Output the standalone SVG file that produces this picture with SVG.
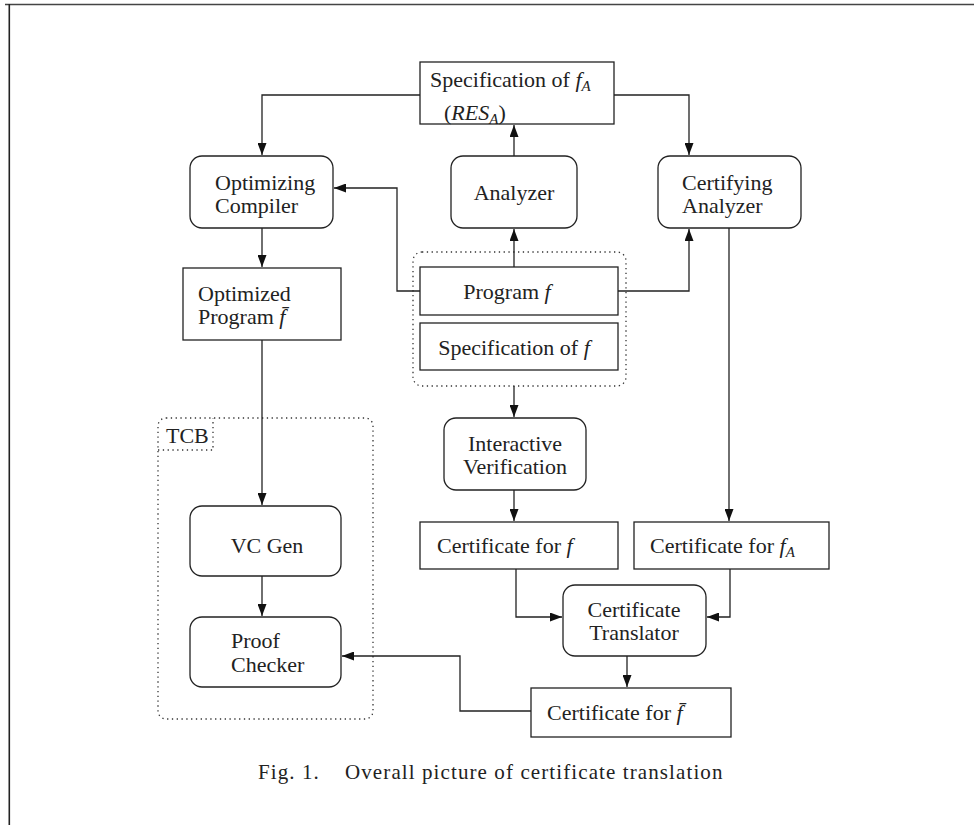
<svg xmlns="http://www.w3.org/2000/svg" width="974" height="825" viewBox="0 0 974 825">
<style>
  .box { fill: #fff; stroke: #222; stroke-width: 1.3; }
  .dot { fill: none; stroke: #333; stroke-width: 1.3; stroke-dasharray: 1.3 3.5; }
  .t { font-family: "Liberation Serif", "Times New Roman", serif; font-size: 22px; fill: #222; }
  .it { font-style: italic; }
  .sub { font-size: 15px; font-style: italic; }
  .cap { font-family: "Liberation Serif", "Times New Roman", serif; font-size: 21px; letter-spacing: 1.1px; fill: #222; }
  .conn path { fill: none; stroke: #222; stroke-width: 1.3; }
</style>
<defs>
  <marker id="ah" viewBox="0 0 12 9" refX="12" refY="4.5" markerWidth="12" markerHeight="9" markerUnits="userSpaceOnUse" orient="auto">
    <path d="M0,0 L12,4.5 L0,9 z" fill="#111"/>
  </marker>
</defs>
<rect width="974" height="825" fill="#fff"/>
<g id="frame">
  <path d="M5,4.5 H974" stroke="#444" stroke-width="1.6" fill="none"/>
  <path d="M9.3,4 V825" stroke="#222" stroke-width="1.6" fill="none"/>
</g>

<g id="groupProgram">
  <rect class="dot" x="413" y="252" width="213" height="134" rx="9"/>
</g>
<g id="tcb">
  <rect class="dot" x="158" y="418" width="215" height="301" rx="8"/>
  <path class="dot" d="M158,450 H213 V418"/>
  <text class="t" x="166" y="443">TCB</text>
</g>

<g class="conn" id="connectors">
  <path d="M420,95 H262 V155" marker-end="url(#ah)"/>
  <path d="M614,95 H689 V155" marker-end="url(#ah)"/>
  <path d="M514,156 V125" marker-end="url(#ah)"/>
  <path d="M514,267 V229" marker-end="url(#ah)"/>
  <path d="M420,291 H397 V188 H334" marker-end="url(#ah)"/>
  <path d="M618,291 H689 V229" marker-end="url(#ah)"/>
  <path d="M262,228 V267" marker-end="url(#ah)"/>
  <path d="M262,340 V505" marker-end="url(#ah)"/>
  <path d="M262,576 V616" marker-end="url(#ah)"/>
  <path d="M514,386 V417" marker-end="url(#ah)"/>
  <path d="M514,490 V521" marker-end="url(#ah)"/>
  <path d="M729,228 V521" marker-end="url(#ah)"/>
  <path d="M516,569 V617 H562" marker-end="url(#ah)"/>
  <path d="M730,569 V617 H707" marker-end="url(#ah)"/>
  <path d="M627,656 V687" marker-end="url(#ah)"/>
  <path d="M531,711 H460 V656 H342" marker-end="url(#ah)"/>
</g>

<g id="specA">
  <rect class="box" x="420" y="62" width="194" height="62"/>
  <text class="t" x="430" y="87">Specification of <tspan class="it">f</tspan><tspan class="sub" dy="4">A</tspan></text>
  <text class="t" x="444" y="120">(<tspan class="it">RES</tspan><tspan class="sub" dy="4">A</tspan><tspan dy="-4">)</tspan></text>
</g>
<g id="optCompiler">
  <rect class="box" x="190" y="156" width="143" height="72" rx="12"/>
  <text class="t" x="215" y="190">Optimizing</text>
  <text class="t" x="215" y="213">Compiler</text>
</g>
<g id="analyzer">
  <rect class="box" x="451" y="156" width="126" height="72" rx="12"/>
  <text class="t" x="514" y="200" text-anchor="middle">Analyzer</text>
</g>
<g id="certAnalyzer">
  <rect class="box" x="658" y="156" width="143" height="72" rx="12"/>
  <text class="t" x="682" y="190">Certifying</text>
  <text class="t" x="682" y="213">Analyzer</text>
</g>
<g id="optProgram">
  <rect class="box" x="183" y="268" width="158" height="72"/>
  <text class="t" x="198" y="301">Optimized</text>
  <text class="t" x="198" y="324">Program <tspan class="it">f&#x304;</tspan></text>
</g>
<g id="programF">
  <rect class="box" x="420" y="267" width="198" height="48"/>
  <text class="t" x="507" y="299" text-anchor="middle">Program <tspan class="it">f</tspan></text>
</g>
<g id="specF">
  <rect class="box" x="420" y="323" width="198" height="47"/>
  <text class="t" x="514" y="355" text-anchor="middle">Specification of <tspan class="it">f</tspan></text>
</g>
<g id="interactive">
  <rect class="box" x="444" y="418" width="142" height="72" rx="12"/>
  <text class="t" x="515" y="451" text-anchor="middle">Interactive</text>
  <text class="t" x="515" y="474" text-anchor="middle">Verification</text>
</g>
<g id="vcgen">
  <rect class="box" x="190" y="506" width="151" height="70" rx="12"/>
  <text class="t" x="267" y="553" text-anchor="middle">VC Gen</text>
</g>
<g id="proofChecker">
  <rect class="box" x="190" y="617" width="151" height="70" rx="12"/>
  <text class="t" x="231" y="648">Proof</text>
  <text class="t" x="231" y="672">Checker</text>
</g>
<g id="certF">
  <rect class="box" x="420" y="522" width="198" height="47"/>
  <text class="t" x="437" y="553">Certificate for <tspan class="it">f</tspan></text>
</g>
<g id="certFA">
  <rect class="box" x="634" y="522" width="195" height="47"/>
  <text class="t" x="650" y="553">Certificate for <tspan class="it">f</tspan><tspan class="sub" dy="4">A</tspan></text>
</g>
<g id="translator">
  <rect class="box" x="563" y="585" width="143" height="71" rx="12"/>
  <text class="t" x="634" y="617" text-anchor="middle">Certificate</text>
  <text class="t" x="634" y="640" text-anchor="middle">Translator</text>
</g>
<g id="certFbar">
  <rect class="box" x="531" y="688" width="200" height="49"/>
  <text class="t" x="547" y="720">Certificate for <tspan class="it">f&#x304;</tspan></text>
</g>

<text class="cap" x="258" y="779">Fig. 1.<tspan x="345">Overall picture of certificate translation</tspan></text>
</svg>
